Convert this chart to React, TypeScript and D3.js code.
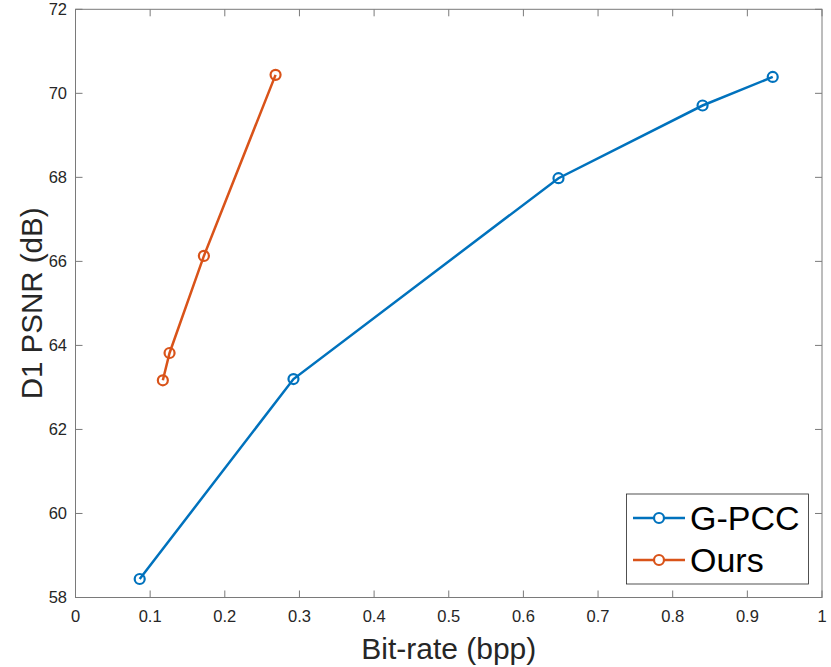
import React, { useRef, useEffect } from "react";
import * as d3 from "d3";

// data
const gpccRate = [0.086, 0.292, 0.647, 0.840, 0.934];
const gpccPsnr = [58.44, 63.2, 67.98, 69.71, 70.39];
const oursRate = [0.117, 0.126, 0.172, 0.268];
const oursPsnr = [63.17, 63.82, 66.13, 70.44];
const seriesNames = ["G-PCC", "Ours"];
const seriesColors = ["#0072BD", "#D95319"];
const xTicks = [0, 0.1, 0.2, 0.3, 0.4, 0.5, 0.6, 0.7, 0.8, 0.9, 1];
const yTicks = [58, 60, 62, 64, 66, 68, 70, 72];

const FONT = "'Liberation Sans', Arial, Helvetica, sans-serif";

export default function App() {
  const ref = useRef<SVGSVGElement>(null);

  useEffect(() => {
    const svg = d3.select(ref.current);
    svg.selectAll("*").remove();

    const left = 75.5, right = 822, top = 9.3, bottom = 597.5;
    const x = d3.scaleLinear().domain([0, 1]).range([left, right]);
    const y = d3.scaleLinear().domain([58, 72]).range([bottom, top]);
    const axisColor = "#7a7a7a";
    const tickLen = 7;

    svg.append("rect").attr("width", 831).attr("height", 667).attr("fill", "#fff");

    // ticks on all four sides, pointing inward
    const g = svg.append("g");
    xTicks.forEach((t) => {
      const px = x(t);
      g.append("line").attr("x1", px).attr("x2", px).attr("y1", bottom).attr("y2", bottom - tickLen)
        .attr("stroke", axisColor);
      g.append("line").attr("x1", px).attr("x2", px).attr("y1", top).attr("y2", top + tickLen)
        .attr("stroke", axisColor);
      g.append("text").attr("x", px).attr("y", 622).attr("text-anchor", "middle")
        .attr("font-family", FONT).attr("font-size", 16.5).attr("fill", "#262626")
        .text(d3.format("~g")(t));
    });
    yTicks.forEach((t) => {
      const py = y(t);
      g.append("line").attr("x1", left).attr("x2", left + tickLen).attr("y1", py).attr("y2", py)
        .attr("stroke", axisColor);
      g.append("line").attr("x1", right).attr("x2", right - tickLen).attr("y1", py).attr("y2", py)
        .attr("stroke", axisColor);
      g.append("text").attr("x", 67).attr("y", py).attr("dy", "0.35em").attr("text-anchor", "end")
        .attr("font-family", FONT).attr("font-size", 16.5).attr("fill", "#262626")
        .text(t);
    });

    // series
    const series = [
      gpccRate.map((r, i) => [r, gpccPsnr[i]]),
      oursRate.map((r, i) => [r, oursPsnr[i]]),
    ];
    const line = d3.line<number[]>().x((d) => x(d[0])).y((d) => y(d[1]));
    series.forEach((pts, si) => {
      svg.append("path").attr("d", line(pts)).attr("fill", "none")
        .attr("stroke", seriesColors[si]).attr("stroke-width", 2.5);
      svg.selectAll(null).data(pts).enter().append("circle")
        .attr("cx", (d) => x(d[0])).attr("cy", (d) => y(d[1])).attr("r", 5)
        .attr("fill", "none").attr("stroke", seriesColors[si]).attr("stroke-width", 2.2);
    });

    // box
    svg.append("rect").attr("x", left).attr("y", top).attr("width", right - left)
      .attr("height", bottom - top).attr("fill", "none").attr("stroke", axisColor);

    // axis labels
    svg.append("text").attr("x", (left + right) / 2).attr("y", 659).attr("text-anchor", "middle")
      .attr("font-family", FONT).attr("font-size", 30).attr("fill", "#262626")
      .text("Bit-rate (bpp)");
    svg.append("text").attr("transform", `translate(42,${(top + bottom) / 2}) rotate(-90)`)
      .attr("text-anchor", "middle")
      .attr("font-family", FONT).attr("font-size", 29.5).attr("fill", "#262626")
      .text("D1 PSNR (dB)");

    // legend
    const lg = svg.append("g");
    lg.append("rect").attr("x", 626.5).attr("y", 494).attr("width", 182).attr("height", 90)
      .attr("fill", "#fff").attr("stroke", "#262626").attr("stroke-width", 0.8);
    seriesNames.forEach((name, i) => {
      const ly = 518 + i * 42;
      lg.append("line").attr("x1", 633).attr("x2", 685).attr("y1", ly).attr("y2", ly)
        .attr("stroke", seriesColors[i]).attr("stroke-width", 2.5);
      lg.append("circle").attr("cx", 659).attr("cy", ly).attr("r", 5)
        .attr("fill", "#fff").attr("stroke", seriesColors[i]).attr("stroke-width", 2.2);
      lg.append("text").attr("x", 690).attr("y", ly).attr("dy", "0.36em")
        .attr("font-family", FONT).attr("font-size", 34).attr("fill", "#000")
        .text(name);
    });
  }, []);

  return (
    <svg ref={ref} width={831} height={667}
      style={{ position: "absolute", left: 0, top: 0 }} />
  );
}
